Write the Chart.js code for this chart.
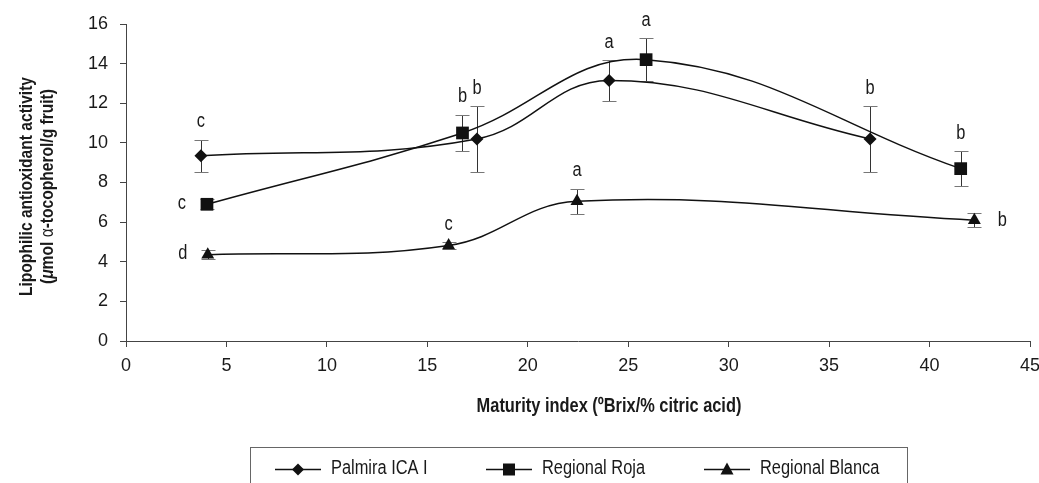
<!DOCTYPE html>
<html>
<head>
<meta charset="utf-8">
<script src="https://cdn.jsdelivr.net/npm/chart.js@4.4.0/dist/chart.umd.min.js"></script>
<style>
html, body { margin: 0; padding: 0; background: #fff; }
#wrap { width: 1039px; height: 483px; }
</style>
</head>
<body>
<div id="wrap"><canvas id="lineChart" width="1039" height="483"></canvas></div>
<script>
// Dados
var seriesNames = ['Palmira ICA I', 'Regional Roja', 'Regional Blanca']

var palmiraX = [3.73, 17.47, 24.05, 37.04]
var palmiraY = [9.35, 10.2, 13.15, 10.2]
var palmiraErr = [0.8, 1.65, 1.03, 1.65]
var palmiraLetters = ['c', 'b', 'a', 'b']

var rojaX = [4.03, 16.75, 25.89, 41.55]
var rojaY = [6.9, 10.5, 14.2, 8.7]
var rojaErr = [0.25, 0.93, 1.07, 0.87]
var rojaLetters = ['c', 'b', 'a', 'b']

var blancaX = [4.07, 16.06, 22.45, 42.23]
var blancaY = [4.35, 4.82, 7.05, 6.1]
var blancaErr = [0.23, 0.17, 0.63, 0.37]
var blancaLetters = ['d', 'c', 'a', 'b']

var xTicks = [0, 5, 10, 15, 20, 25, 30, 35, 40, 45]
var yTicks = [0, 2, 4, 6, 8, 10, 12, 14, 16]

var FONT = "'Liberation Sans', Arial, sans-serif"
var INK = '#1a1a1a'
var NARROW = 0.82 // simula Arial Narrow

function pts(xs, ys) {
    return xs.map(function (x, i) { return { x: x, y: ys[i] } })
}

function serie(name, xs, ys, errs, letters, where, style, radius) {
    return {
        label: name,
        data: pts(xs, ys),
        errors: errs,
        letters: letters,
        letterPos: where,
        showLine: true,
        fill: false,
        tension: 0.4,
        borderColor: '#111',
        borderWidth: 1.5,
        pointStyle: style,
        pointRadius: radius,
        pointBackgroundColor: '#111',
        pointBorderColor: '#111',
        pointBorderWidth: 0,
    }
}

// texto condensado
function narrowText(ctx, text, x, y, font, align, angle) {
    ctx.save()
    ctx.translate(x, y)
    if (angle) ctx.rotate(angle)
    ctx.scale(NARROW, 1)
    ctx.font = font
    ctx.textAlign = align || 'center'
    ctx.fillText(text, 0, 0)
    ctx.restore()
}

// barras de erro, letras, titulos e legenda
var extrasPlugin = {
    id: 'extras',
    beforeDatasetsDraw: function (chart) {
        var ctx = chart.ctx
        var sx = chart.scales.x, sy = chart.scales.y
        ctx.save()
        chart.data.datasets.forEach(function (ds) {
            ds.data.forEach(function (p, i) {
                var e = ds.errors[i]
                var px = Math.round(sx.getPixelForValue(p.x)) + 0.5
                var top = Math.round(sy.getPixelForValue(p.y + e)) + 0.5
                var bot = Math.round(sy.getPixelForValue(p.y - e)) + 0.5
                ctx.lineWidth = 1
                ctx.strokeStyle = '#333'
                ctx.beginPath()
                ctx.moveTo(px, top); ctx.lineTo(px, bot)
                ctx.stroke()
                ctx.strokeStyle = '#777'
                ctx.beginPath()
                ctx.moveTo(px - 7, top); ctx.lineTo(px + 7, top)
                ctx.moveTo(px - 7, bot); ctx.lineTo(px + 7, bot)
                ctx.stroke()
            })
        })
        ctx.restore()
    },
    afterDatasetsDraw: function (chart) {
        var ctx = chart.ctx
        var sx = chart.scales.x, sy = chart.scales.y
        ctx.save()
        ctx.fillStyle = INK
        ctx.textBaseline = 'middle'
        var f = '20px ' + FONT
        chart.data.datasets.forEach(function (ds) {
            ds.data.forEach(function (p, i) {
                var px = sx.getPixelForValue(p.x)
                var py = sy.getPixelForValue(p.y)
                var top = sy.getPixelForValue(p.y + ds.errors[i])
                var w = ds.letterPos[i]
                if (w == 'left') narrowText(ctx, ds.letters[i], px - 25, py - 1, f)
                else if (w == 'right') narrowText(ctx, ds.letters[i], px + 28, py, f)
                else narrowText(ctx, ds.letters[i], px, top - 18, f)
            })
        })
        ctx.restore()
    },
    afterDraw: function (chart) {
        var ctx = chart.ctx
        var area = chart.chartArea
        ctx.save()
        ctx.fillStyle = INK
        ctx.textBaseline = 'middle'

        // titulo eixo x
        narrowText(ctx, 'Maturity index (\u00baBrix/% citric acid)', 609, 406, 'bold 20px ' + FONT)

        // titulo eixo y (duas linhas)
        var cy = (area.top + area.bottom) / 2 + 4
        narrowText(ctx, 'Lipophilic antioxidant activity', 27, cy, 'bold 19px ' + FONT, 'center', -Math.PI / 2)

        var parts = [
            ['(', 'bold 19px '],
            ['\u03bc', 'italic bold 19px '],
            ['mol ', 'bold 19px '],
            ['\u03b1', '19px '],
            ['-tocopherol/g fruit)', 'bold 19px '],
        ]
        var total = 0
        parts.forEach(function (pt) { ctx.font = pt[1] + FONT; total += ctx.measureText(pt[0]).width })
        ctx.save()
        ctx.translate(48, cy)
        ctx.rotate(-Math.PI / 2)
        ctx.scale(NARROW, 1)
        ctx.textAlign = 'left'
        var pos = -total / 2
        parts.forEach(function (pt) {
            ctx.font = pt[1] + FONT
            ctx.fillText(pt[0], pos, 0)
            pos += ctx.measureText(pt[0]).width
        })
        ctx.restore()

        // legenda
        ctx.strokeStyle = '#666'
        ctx.lineWidth = 1
        ctx.strokeRect(250.5, 447.5, 657, 60)
        var starts = [275, 486, 704]
        var styles = ['diamond', 'square', 'triangle']
        seriesNames.forEach(function (name, i) {
            var x0 = starts[i], ly = 469.5
            ctx.strokeStyle = '#111'
            ctx.lineWidth = 1.5
            ctx.beginPath(); ctx.moveTo(x0, ly); ctx.lineTo(x0 + 46, ly); ctx.stroke()
            var mx = x0 + 23
            ctx.fillStyle = '#111'
            ctx.beginPath()
            if (styles[i] == 'diamond') {
                ctx.moveTo(mx, ly - 6); ctx.lineTo(mx + 6, ly); ctx.lineTo(mx, ly + 6); ctx.lineTo(mx - 6, ly)
            } else if (styles[i] == 'square') {
                ctx.rect(mx - 6, ly - 6, 12, 12)
            } else {
                ctx.moveTo(mx, ly - 7); ctx.lineTo(mx + 6.5, ly + 5); ctx.lineTo(mx - 6.5, ly + 5)
            }
            ctx.closePath()
            ctx.fill()
            ctx.fillStyle = INK
            narrowText(ctx, name, x0 + 56, 468, '20px ' + FONT, 'left')
        })
        ctx.restore()
    }
}

var ctxLine = document.getElementById('lineChart').getContext('2d')

var lineChart = new Chart(ctxLine, {
    type: 'scatter',
    data: {
        datasets: [
            serie(seriesNames[0], palmiraX, palmiraY, palmiraErr, palmiraLetters, ['top', 'top', 'top', 'top'], 'rectRot', 6.5),
            serie(seriesNames[1], rojaX, rojaY, rojaErr, rojaLetters, ['left', 'top', 'top', 'top'], 'rect', 9),
            serie(seriesNames[2], blancaX, blancaY, blancaErr, blancaLetters, ['left', 'top', 'top', 'right'], 'triangle', 7.5),
        ]
    },
    options: {
        responsive: false,
        animation: false,
        devicePixelRatio: 1,
        layout: { padding: { top: 24, right: 8, left: 0, bottom: 0 } },
        plugins: {
            legend: { display: false },
            tooltip: { enabled: false },
        },
        scales: {
            x: {
                type: 'linear',
                min: xTicks[0],
                max: xTicks[xTicks.length - 1],
                afterBuildTicks: function (s) { s.ticks = xTicks.map(function (v) { return { value: v } }) },
                afterFit: function (s) { s.height = 142; s.paddingLeft = 0; s.paddingRight = 0 },
                grid: { drawOnChartArea: false, drawTicks: true, tickLength: 6, color: '#444' },
                border: { color: '#444', width: 1 },
                ticks: { color: INK, padding: 8, maxRotation: 0, font: { family: FONT, size: 18 } },
            },
            y: {
                type: 'linear',
                min: yTicks[0],
                max: yTicks[yTicks.length - 1],
                afterBuildTicks: function (s) { s.ticks = yTicks.map(function (v) { return { value: v } }) },
                afterFit: function (s) { s.width = 126; s.paddingTop = 0; s.paddingBottom = 0 },
                grid: { drawOnChartArea: false, drawTicks: true, tickLength: 6, color: '#444' },
                border: { color: '#444', width: 1 },
                ticks: { color: INK, padding: 12, font: { family: FONT, size: 18 } },
            }
        }
    },
    plugins: [extrasPlugin]
})
</script>
</body>
</html>
